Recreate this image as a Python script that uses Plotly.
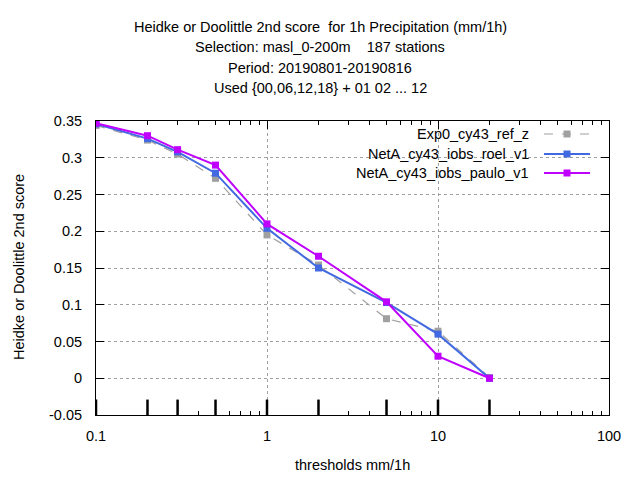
import plotly.graph_objects as go

# thresholds (mm/1h) and scores per experiment
thresholds = [0.1, 0.2, 0.3, 0.5, 1, 2, 5, 10, 20]
exp0_ref_z = [0.344, 0.324, 0.305, 0.272, 0.195, 0.154, 0.081, 0.064, 0.001]
neta_roel = [0.346, 0.326, 0.308, 0.279, 0.204, 0.150, 0.103, 0.060, 0.000]
neta_paulo = [0.347, 0.330, 0.311, 0.290, 0.210, 0.166, 0.104, 0.030, 0.000]

series_names = ["Exp0_cy43_ref_z", "NetA_cy43_iobs_roel_v1", "NetA_cy43_iobs_paulo_v1"]
series_colors = ["#a0a0a0", "#4169e1", "#c000ff"]
series_dash = ["dash", "solid", "solid"]

title_lines = [
    "Heidke or Doolittle 2nd score  for 1h Precipitation (mm/1h)",
    "Selection: masl_0-200m    187 stations",
    "Period: 20190801-20190816",
    "Used {00,06,12,18} + 01 02 ... 12",
]

FONT = "Liberation Sans, Arial, sans-serif"
FS = 14.5

# plot area in page pixels (page has an 8px body margin)
L, R, T, B = 96, 609, 121, 415
OFF = 8
PW, PH = R - L, B - T

fig = go.Figure()

# threshold marks along the bottom
tx, ty = [], []
for t in thresholds:
    tx += [t, t, None]
    ty += [-0.05, -0.029, None]
fig.add_trace(go.Scatter(x=tx, y=ty, mode="lines",
                         line=dict(color="black", width=2.5),
                         showlegend=False, hoverinfo="skip"))

for name, vals, col, dash in zip(series_names, [exp0_ref_z, neta_roel, neta_paulo],
                                 series_colors, series_dash):
    fig.add_trace(go.Scatter(
        x=thresholds, y=vals, name=name, mode="lines+markers",
        line=dict(color=col, width=1.2 if dash == "dash" else 2, dash=dash),
        marker=dict(symbol="square", size=7, color=col),
        showlegend=False,
    ))

# hand-made legend (text right, sample on the right, like gnuplot)
leg_rows = [134, 154, 173]
for name, col, dash, py in zip(series_names, series_colors, series_dash, leg_rows):
    yy = (B - py) / PH
    fig.add_trace(go.Scatter(
        x=[(544 - L) / PW, (567 - L) / PW, (590 - L) / PW], y=[yy, yy, yy],
        xaxis="x2", yaxis="y2",
        mode="lines", line=dict(color=col, width=1.2 if dash == "dash" else 2, dash=dash),
        showlegend=False, hoverinfo="skip"))
    fig.add_trace(go.Scatter(
        x=[(567 - L) / PW], y=[yy], xaxis="x2", yaxis="y2", mode="markers",
        marker=dict(symbol="square", size=7, color=col),
        showlegend=False, hoverinfo="skip"))
    fig.add_annotation(text=name, xref="paper", yref="paper", x=(531 - L) / PW, y=yy,
                       xanchor="right", yanchor="middle", showarrow=False,
                       font=dict(size=FS, color="black"))

# title lines
for i, line in enumerate(title_lines):
    fig.add_annotation(text=line, xref="paper", yref="paper",
                       x=(320 - L) / PW, y=(B - (27 + i * 20.3)) / PH,
                       xanchor="center", yanchor="middle", showarrow=False,
                       font=dict(size=FS, color="black"))

fig.add_annotation(text="Heidke or Doolittle 2nd score", xref="paper", yref="paper",
                   x=(19 - L) / PW, y=(B - 267) / PH, textangle=-90,
                   xanchor="center", yanchor="middle", showarrow=False,
                   font=dict(size=FS, color="black"))

fig.add_annotation(text="thresholds mm/1h", xref="paper", yref="paper",
                   x=(352 - L) / PW, y=(B - 465) / PH,
                   xanchor="center", yanchor="middle", showarrow=False,
                   font=dict(size=FS, color="black"))

fig.update_layout(
    width=640, height=480,
    margin=dict(l=L - OFF, r=640 - (R - OFF), t=T - OFF, b=480 - (B - OFF)),
    paper_bgcolor="white", plot_bgcolor="white",
    font=dict(family=FONT, size=FS, color="black"),
    xaxis=dict(
        type="log", range=[-1, 2],
        tickvals=[0.1, 1, 10, 100], ticktext=["0.1", "1", "10", "100"],
        ticks="inside", ticklen=8, tickcolor="black", ticklabelstandoff=8,
        showline=True, linecolor="black", linewidth=1, mirror="ticks",
        showgrid=True, gridcolor="#a0a0a0", griddash="dot", gridwidth=1,
        zeroline=False,
        minor=dict(tickvals=[0.2, 0.3, 0.4, 0.5, 0.6, 0.7, 0.8, 0.9,
                             2, 3, 4, 5, 6, 7, 8, 9,
                             20, 30, 40, 50, 60, 70, 80, 90],
                   ticks="inside", ticklen=4, tickcolor="black", showgrid=False),
    ),
    yaxis=dict(
        range=[-0.05, 0.35],
        tickvals=[-0.05, 0, 0.05, 0.1, 0.15, 0.2, 0.25, 0.3, 0.35],
        ticktext=["-0.05", "0", "0.05", "0.1", "0.15", "0.2", "0.25", "0.3", "0.35"],
        ticks="inside", ticklen=8, tickcolor="black", ticklabelstandoff=10,
        showline=True, linecolor="black", linewidth=1, mirror="ticks",
        showgrid=True, gridcolor="#a0a0a0", griddash="dot", gridwidth=1,
        zeroline=False,
    ),
    xaxis2=dict(overlaying="x", range=[0, 1], visible=False, fixedrange=True),
    yaxis2=dict(overlaying="y", range=[0, 1], visible=False, fixedrange=True),
)

fig.write_html("out.html")
